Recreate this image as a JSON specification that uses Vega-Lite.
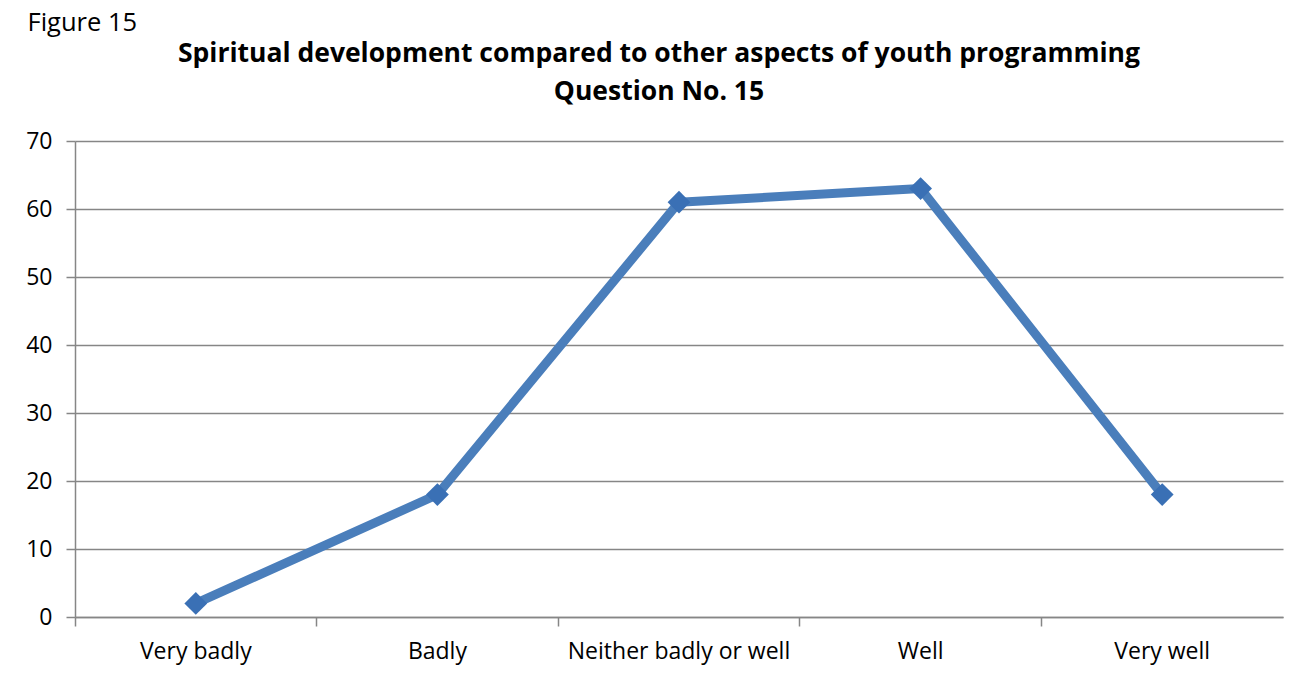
{
  "$schema": "https://vega.github.io/schema/vega-lite/v6.json",
  "width": 1208,
  "height": 476,
  "autosize": {"type": "none"},
  "padding": {"left": 75, "top": 141, "right": 30, "bottom": 60},
  "background": "white",
  "config": {
    "font": "Open Sans",
    "view": {"stroke": null}
  },
  "title": {
    "text": ["Spiritual development compared to other aspects of youth programming", "Question No. 15"],
    "font": "Open Sans",
    "fontSize": 26.5,
    "fontWeight": "bold",
    "color": "#000000",
    "anchor": "middle",
    "dx": -20,
    "lineHeight": 38,
    "offset": -95
  },
  "data": {
    "values": [
      {"category": "Very badly", "value": 2},
      {"category": "Badly", "value": 18},
      {"category": "Neither badly or well", "value": 61},
      {"category": "Well", "value": 63},
      {"category": "Very well", "value": 18}
    ]
  },
  "resolve": {"axis": {"x": "independent"}},
  "layer": [
    {
      "mark": {"type": "line", "color": "#4A7EBB", "strokeWidth": 9, "strokeJoin": "round"},
      "encoding": {
        "x": {
          "field": "category",
          "type": "nominal",
          "sort": null,
          "scale": {"type": "band", "paddingInner": 0, "paddingOuter": 0},
          "axis": {
            "orient": "bottom",
            "title": null,
            "labelAngle": 0,
            "labelFont": "Open Sans",
            "labelFontSize": 23,
            "labelColor": "#000000",
            "labelPadding": 23,
            "labelLimit": 0,
            "ticks": false,
            "domain": false,
            "grid": false
          }
        },
        "y": {
          "field": "value",
          "type": "quantitative",
          "scale": {"domain": [0, 70], "nice": false},
          "axis": {
            "values": [0, 10, 20, 30, 40, 50, 60, 70],
            "title": "Figure 15",
            "titleAngle": 0,
            "titleFont": "Open Sans",
            "titleFontSize": 25.5,
            "titleFontWeight": "normal",
            "titleColor": "#000000",
            "titleAlign": "left",
            "titleBaseline": "middle",
            "titleX": -48,
            "titleY": -119,
            "labelFont": "Open Sans",
            "labelFontSize": 23,
            "labelColor": "#000000",
            "labelPadding": 14,
            "tickSize": 9,
            "tickColor": "#868686",
            "tickWidth": 1.5,
            "domainColor": "#868686",
            "domainWidth": 1.5,
            "gridColor": "#868686",
            "gridWidth": 1.5,
            "grid": true
          }
        }
      }
    },
    {
      "mark": {"type": "point", "shape": "diamond", "filled": true, "color": "#3A70B5", "size": 520, "opacity": 1},
      "encoding": {
        "x": {
          "field": "category",
          "type": "nominal",
          "sort": null,
          "axis": {
            "orient": "bottom",
            "title": null,
            "labels": false,
            "bandPosition": 0,
            "tickSize": 9,
            "tickColor": "#868686",
            "tickWidth": 1.5,
            "domainColor": "#868686",
            "domainWidth": 1.5,
            "grid": false
          }
        },
        "y": {"field": "value", "type": "quantitative"}
      }
    }
  ]
}
